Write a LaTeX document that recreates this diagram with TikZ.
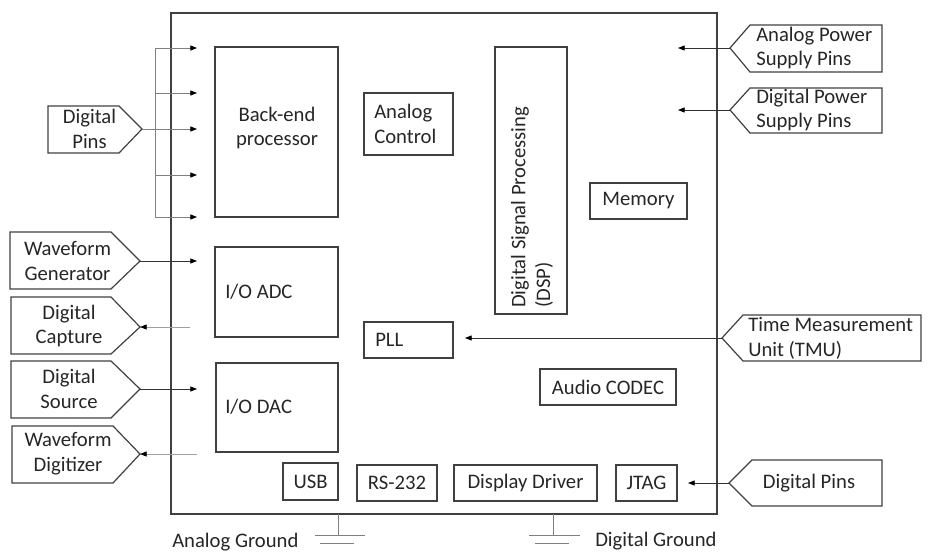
\documentclass[tikz,border=0pt]{standalone}
\usepackage{fontspec}
\setmainfont{Carlito}
\usetikzlibrary{arrows.meta}
\definecolor{ln}{HTML}{404040}
\definecolor{tx}{HTML}{262626}
\definecolor{lg}{HTML}{A0A0A0}
\begin{document}
\begin{tikzpicture}[x=0.75pt,y=-0.75pt,
  txt/.style={font=\fontsize{15.5}{18.5}\selectfont, text=tx, inner sep=0pt, align=center},
  txtl/.style={txt, align=left},
  blk/.style={draw=ln, line width=1pt},
  pent/.style={draw=ln, line width=0.9pt},
  tip/.style={-{Triangle[length=5pt,width=3.8pt,color=black]}},
  conn/.style={draw=black!80, line width=0.6pt, tip},
  lconn/.style={draw=lg, line width=0.6pt, tip},
  bus/.style={draw=gray, line width=0.6pt},
  gnd/.style={draw=gray, line width=0.7pt}
]
\useasboundingbox (0,0) rectangle (938,553);

% main chip outline
\draw[blk] (171,13) rectangle (717,514);

% inner blocks
\draw[blk] (215,47) rectangle (338,217);
\node[txt] (be) at (277,128) {Back-end\\processor};
\draw[blk] (364,93) rectangle (453,155);
\node[txtl, anchor=west] (ac) at (374,124) {Analog\\Control};
\draw[blk] (495,47) rectangle (567,314);
\node[txtl, anchor=west, rotate=90] (dsp) at (532,308) {Digital Signal Processing\\(DSP)};
\draw[blk] (590,183) rectangle (687,219);
\node[txt] (mem) at (638.5,201) {Memory};
\draw[blk] (215,247) rectangle (338,337);
\node[txtl, anchor=west] (adc) at (225,292) {I/O ADC};
\draw[blk] (216,363) rectangle (338,452);
\node[txtl, anchor=west] (dac) at (225,407) {I/O DAC};
\draw[blk] (364,322) rectangle (453,358);
\node[txtl, anchor=west] (pll) at (375,340) {PLL};
\draw[blk] (540,369) rectangle (676,405);
\node[txt] (codec) at (608,387) {Audio CODEC};
\draw[blk] (283,463) rectangle (338,500);
\node[txt] (usb) at (310.5,481.5) {USB};
\draw[blk] (357,465) rectangle (437,501);
\node[txt] (rs) at (397,483) {RS-232};
\draw[blk] (454,465) rectangle (597,501);
\node[txt] (dd) at (525.5,483) {Display Driver};
\draw[blk] (616,465) rectangle (677,501);
\node[txt] (jtag) at (646.5,483) {JTAG};

% left pentagons
\draw[pent] (48,106) -- (119,106) -- (142,129) -- (119,153) -- (48,153) -- cycle;
\coordinate (dpL) at (142,129);
\node[txt] (dpLt) at (89.5,129) {Digital\\Pins};

\draw[pent] (10,232) -- (111,232) -- (140,261) -- (111,289) -- (10,289) -- cycle;
\coordinate (wg) at (140,261);
\node[txt] (wgt) at (67.5,261) {Waveform\\Generator};

\draw[pent] (11,297) -- (111,297) -- (140,327) -- (111,354) -- (11,354) -- cycle;
\coordinate (dc) at (140,327);
\node[txt] (dct) at (69,326) {Digital\\Capture};

\draw[pent] (11,361) -- (111,361) -- (140,389) -- (111,418) -- (11,418) -- cycle;
\coordinate (ds) at (140,389);
\node[txt] (dst) at (69,389) {Digital\\Source};

\draw[pent] (12,426) -- (113,426) -- (140,454) -- (113,483) -- (12,483) -- cycle;
\coordinate (wd) at (140,454);
\node[txt] (wdt) at (68,454) {Waveform\\Digitizer};

% right pentagons
\draw[pent] (730,48) -- (750,25) -- (882,25) -- (882,72) -- (750,72) -- cycle;
\coordinate (ap) at (730,48);
\node[txtl, anchor=west] (apt) at (756,48) {Analog Power\\Supply Pins};

\draw[pent] (730,110) -- (750,88) -- (882,88) -- (882,133) -- (750,133) -- cycle;
\coordinate (dpw) at (730,110);
\node[txtl, anchor=west] (dpwt) at (756,110) {Digital Power\\Supply Pins};

\draw[pent] (722,338) -- (743,315) -- (921,315) -- (921,361) -- (743,361) -- cycle;
\coordinate (tmu) at (722,338);
\node[txtl, anchor=west] (tmut) at (748,338) {Time Measurement\\Unit (TMU)};

\draw[pent] (729,483) -- (752,460) -- (882,460) -- (882,506) -- (752,506) -- cycle;
\coordinate (dpR) at (729,483);
\node[txt] (dpRt) at (809,483) {Digital Pins};

% internal target coordinates
\coordinate (b1) at (197,48);
\coordinate (b2) at (197,93);
\coordinate (b3) at (197,129);
\coordinate (b4) at (197,175);
\coordinate (b5) at (197,217);
\coordinate (bt) at (155,48);
\coordinate (bb) at (155,217);
\coordinate (wgE) at (197,261);
\coordinate (dcS) at (190,327);
\coordinate (dsE) at (197,389);
\coordinate (wdS) at (197,454);
\coordinate (apE) at (678,48);
\coordinate (dpwE) at (678,110);
\coordinate (tmuE) at (465,338);
\coordinate (dpRE) at (688,483);

% digital pin bus
\draw[bus] (bt) -- (bb);
\draw[bus, tip] (bt) -- (b1);
\draw[bus, tip] (bt |- b2) -- (b2);
\draw[bus, tip] (dpL) -- (b3);
\draw[bus, tip] (bt |- b4) -- (b4);
\draw[bus, tip] (bb) -- (b5);

% connectors
\draw[conn] (wg) -- (wgE);
\draw[lconn] (dcS) -- (dc);
\draw[conn] (ds) -- (dsE);
\draw[lconn] (wdS) -- (wd);
\draw[conn] (ap) -- (apE);
\draw[conn] (dpw) -- (dpwE);
\draw[conn] (tmu) -- (tmuE);
\draw[conn] (dpR) -- (dpRE);

% grounds
\coordinate (ag) at (338,514);
\coordinate (agb) at (338,535);
\draw[gnd] (ag) -- (agb);
\draw[gnd] (315,535) -- (365,535);
\draw[gnd] (320,543) -- (354,543);
\node[txtl, anchor=west] (agt) at (172,542) {Analog Ground};

\coordinate (dg) at (553,514);
\coordinate (dgb) at (553,535);
\draw[gnd] (dg) -- (dgb);
\draw[gnd] (529,535) -- (580,535);
\draw[gnd] (535,543) -- (569,543);
\node[txtl, anchor=west] (dgt) at (595,541) {Digital Ground};
\end{tikzpicture}
\end{document}
